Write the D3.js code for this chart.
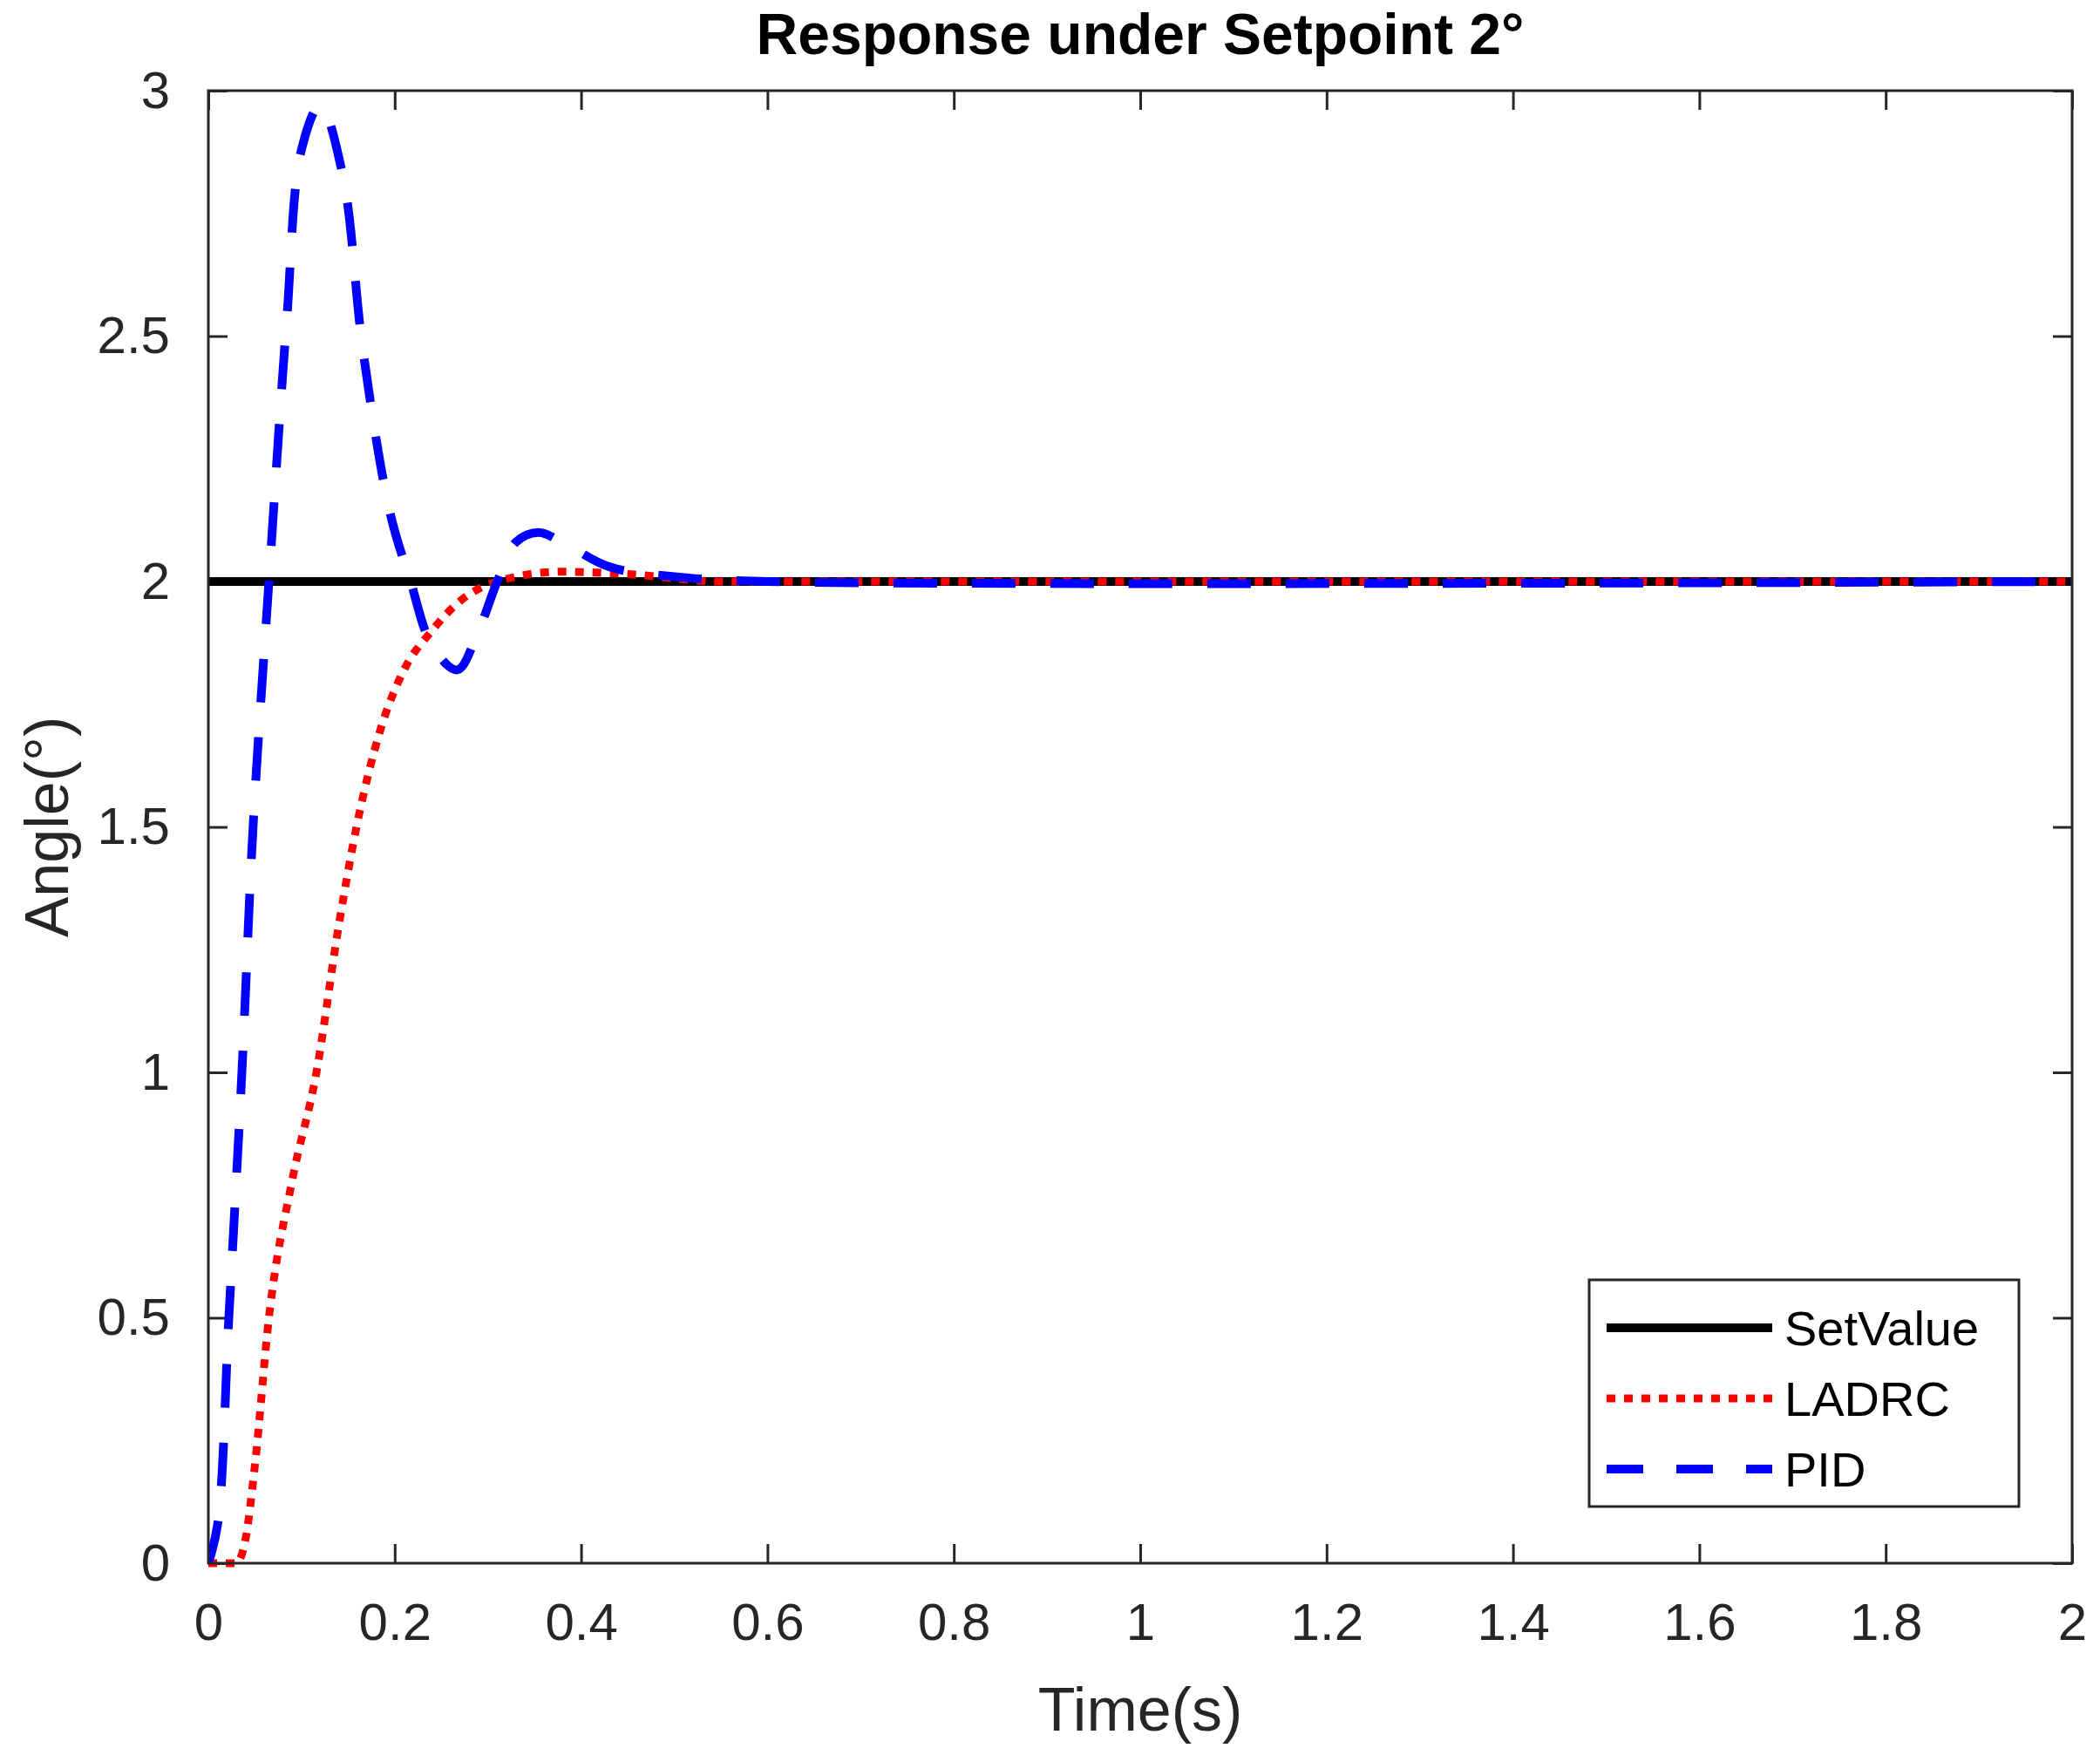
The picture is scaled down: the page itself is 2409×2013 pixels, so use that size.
<!DOCTYPE html>
<html>
<head>
<meta charset="utf-8">
<script src="https://cdn.jsdelivr.net/npm/d3@7"></script>
<style>
  body { margin: 0; background: #fff; }
  text { font-family: Arial, "Liberation Sans", sans-serif; }
</style>
</head>
<body>
<svg id="chart" width="2409" height="2013"></svg>
<script>
const setT = [0, 2];
const setV = [2, 2];
const ladrcT = [0, 0.03, 0.04, 0.05, 0.065, 0.09, 0.116, 0.14, 0.159, 0.185, 0.21, 0.24, 0.27, 0.31, 0.38, 0.45, 0.55, 0.7, 2];
const ladrcV = [0, 0, 0.05, 0.2, 0.5, 0.78, 1.0, 1.3, 1.5, 1.7, 1.82, 1.9, 1.96, 2.0, 2.02, 2.015, 2.0, 2.0, 2.0];
const pidT = [0, 0.01, 0.022, 0.036, 0.048, 0.065, 0.084, 0.1, 0.12, 0.144, 0.166, 0.195, 0.217, 0.24, 0.267, 0.29, 0.31, 0.33, 0.354, 0.38, 0.43, 0.5, 0.6, 2];
const pidV = [0, 0.08, 0.5, 1.0, 1.5, 2.0, 2.53, 2.88, 2.97, 2.83, 2.47, 2.14, 2.0, 1.87, 1.82, 1.9, 2.0, 2.08, 2.1, 2.08, 2.03, 2.01, 2.0, 2.0];
const xTicks = [0, 0.2, 0.4, 0.6, 0.8, 1, 1.2, 1.4, 1.6, 1.8, 2];
const yTicks = [0, 0.5, 1, 1.5, 2, 2.5, 3];

const L = 239, R = 2377, T = 104, B = 1793;
const svg = d3.select('#chart');
const x = d3.scaleLinear().domain([0, 2]).range([L, R]);
const y = d3.scaleLinear().domain([0, 3]).range([B, T]);
const axisCol = '#262626';

// axes, ticks pointing inward on every side
svg.append('g').attr('transform', `translate(0,${B})`)
  .call(d3.axisBottom(x).tickValues(xTicks).tickSizeInner(-22).tickSizeOuter(0).tickPadding(45).tickFormat(d3.format('')));
svg.append('g').attr('transform', `translate(0,${T})`)
  .call(d3.axisTop(x).tickValues(xTicks).tickSizeInner(-22).tickSizeOuter(0).tickFormat(''));
svg.append('g').attr('transform', `translate(${L},0)`)
  .call(d3.axisLeft(y).tickValues(yTicks).tickSizeInner(-22).tickSizeOuter(0).tickPadding(44).tickFormat(d3.format('')));
svg.append('g').attr('transform', `translate(${R},0)`)
  .call(d3.axisRight(y).tickValues(yTicks).tickSizeInner(-22).tickSizeOuter(0).tickFormat(''));
svg.selectAll('.tick line').attr('stroke', axisCol).attr('stroke-width', 3);
svg.selectAll('.domain').remove();
svg.selectAll('.tick text').attr('font-size', 60).attr('fill', axisCol).attr('font-family', 'Arial, Liberation Sans, sans-serif');

svg.append('clipPath').attr('id', 'c').append('rect')
  .attr('x', L).attr('y', T - 10).attr('width', R - L).attr('height', B - T + 20);

const line = d3.line().x(d => x(d[0])).y(d => y(d[1])).curve(d3.curveMonotoneX);
const g = svg.append('g').attr('clip-path', 'url(#c)');
g.append('path').datum(d3.zip(setT, setV)).attr('d', line)
  .attr('fill', 'none').attr('stroke', '#000').attr('stroke-width', 10);
g.append('path').datum(d3.zip(ladrcT, ladrcV)).attr('d', line)
  .attr('fill', 'none').attr('stroke', '#ff0000').attr('stroke-width', 9).attr('stroke-dasharray', '10,10');
g.append('path').datum(d3.zip(pidT, pidV)).attr('d', d3.line().x(d => x(d[0])).y(d => y(d[1])).curve(d3.curveCatmullRom))
  .attr('fill', 'none').attr('stroke', '#0000ff').attr('stroke-width', 10).attr('stroke-dasharray', '50,40');

svg.append('rect').attr('x', L).attr('y', T).attr('width', R - L).attr('height', B - T)
  .attr('fill', 'none').attr('stroke', axisCol).attr('stroke-width', 3);

// legend
const lg = svg.append('g');
lg.append('rect').attr('x', 1823).attr('y', 1468).attr('width', 493).attr('height', 260)
  .attr('fill', '#fff').attr('stroke', axisCol).attr('stroke-width', 3);
const items = [
  ['SetValue', '#000', null, 10],
  ['LADRC', '#ff0000', '10,10', 9],
  ['PID', '#0000ff', '42,38', 10]
];
items.forEach((it, i) => {
  const yy = 1523 + i * 81;
  lg.append('line').attr('x1', 1843).attr('x2', 2033).attr('y1', yy).attr('y2', yy)
    .attr('stroke', it[1]).attr('stroke-width', it[3]).attr('stroke-dasharray', it[2]);
  lg.append('text').attr('x', 2047).attr('y', yy + 20).attr('font-size', 56).text(it[0]);
});

svg.append('text').attr('x', (L + R) / 2).attr('y', 62).attr('text-anchor', 'middle')
  .attr('font-size', 66).attr('font-weight', 'bold').text('Response under Setpoint 2°');
svg.append('text').attr('x', (L + R) / 2).attr('y', 1985).attr('text-anchor', 'middle')
  .attr('font-size', 70).attr('fill', axisCol).text('Time(s)');
svg.append('text').attr('transform', `translate(78,${(T + B) / 2}) rotate(-90)`).attr('text-anchor', 'middle')
  .attr('font-size', 70).attr('fill', axisCol).text('Angle(°)');
</script>
</body>
</html>
